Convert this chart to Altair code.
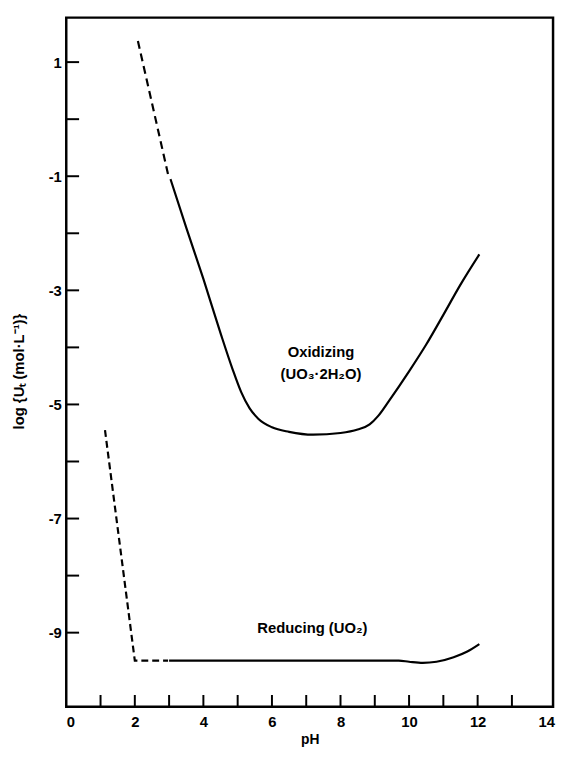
import altair as alt
import pandas as pd

# ---- data ----
ox_dash_ph = [2.09, 2.99]
ox_dash_log = [1.37, -1.02]
ox_ph = [3.04, 3.5, 4.0, 4.5, 4.85, 5.1, 5.35, 5.6, 6.0, 6.5, 7.2, 8.0, 8.5, 8.85, 9.1, 9.4, 10.0, 10.5, 11.0, 11.5, 12.05]
ox_log = [-1.05, -1.9, -2.8, -3.75, -4.38, -4.78, -5.07, -5.25, -5.4, -5.48, -5.53, -5.5, -5.44, -5.35, -5.2, -4.95, -4.42, -3.95, -3.43, -2.9, -2.37]

red_dash_ph = [1.13, 2.0, 2.97]
red_dash_log = [-5.45, -9.49, -9.49]
red_ph = [3.0, 5.0, 7.0, 9.0, 9.7, 10.0, 10.4, 10.8, 11.3, 11.7, 12.05]
red_log = [-9.49, -9.49, -9.49, -9.49, -9.49, -9.51, -9.53, -9.51, -9.43, -9.33, -9.2]

label_text = ["Oxidizing", "(UO₃·2H₂O)", "Reducing (UO₂)"]
label_ph = [7.43, 7.43, 7.18]
label_log = [-4.09, -4.47, -8.92]

x_tick_values = list(range(1, 14))
y_tick_values = list(range(-9, 2))
x_label_values = [0, 2, 4, 6, 8, 10, 12, 14]
y_label_values = [1, -1, -3, -5, -7, -9]

X_DOMAIN = [0, 14.2]
Y_DOMAIN = [-10.3, 1.78]
W, H = 493, 698
FONT = "Liberation Sans"

def frame(ph, lg, curve):
    return pd.DataFrame({"pH": ph, "logU": lg, "curve": curve})

solid = pd.concat([frame(ox_ph, ox_log, "ox"), frame(red_ph, red_log, "red")])
dashed_ox = frame(ox_dash_ph, ox_dash_log, "ox")
dashed_red = frame(red_dash_ph, red_dash_log, "red")
labels = pd.DataFrame({"t": label_text, "pH": label_ph, "logU": label_log})
xt = pd.DataFrame({"v": x_tick_values})
yt = pd.DataFrame({"v": y_tick_values})

xs = alt.Scale(domain=X_DOMAIN, nice=False, zero=False)
ys = alt.Scale(domain=Y_DOMAIN, nice=False, zero=False)

x_axis = alt.Axis(values=x_label_values, format="d", ticks=False, domain=False, grid=False,
                  labelFont=FONT, labelFontWeight="bold", labelFontSize=15,
                  labelColor="black", labelPadding=8, title="pH",
                  titleFont=FONT, titleFontWeight="bold", titleFontSize=14,
                  titleColor="black", titlePadding=3)
y_axis = alt.Axis(values=y_label_values, format="d", ticks=False, domain=False, grid=False,
                  labelExpr="replace(datum.label, '\u2212', '-')",
                  labelFont=FONT, labelFontWeight="bold", labelFontSize=15,
                  labelColor="black", labelPadding=5,
                  title="log {Uₜ (mol·L⁻¹)}",
                  titleFont=FONT, titleFontWeight="bold", titleFontSize=15,
                  titleColor="black", titleX=-48, titleY=358, titleBaseline="middle")

base_x = alt.X("pH:Q", scale=xs, axis=x_axis)
base_y = alt.Y("logU:Q", scale=ys, axis=y_axis)

solid_layer = alt.Chart(solid).mark_line(color="black", strokeWidth=2.2, interpolate="monotone").encode(
    x=base_x, y=base_y, detail="curve:N")
dash_ox_layer = alt.Chart(dashed_ox).mark_line(color="black", strokeWidth=2.2, strokeDash=[8, 5]).encode(
    x=alt.X("pH:Q", scale=xs), y=alt.Y("logU:Q", scale=ys))
dash_red_layer = alt.Chart(dashed_red).mark_line(color="black", strokeWidth=2.2, strokeDash=[7, 4]).encode(
    x=alt.X("pH:Q", scale=xs), y=alt.Y("logU:Q", scale=ys))

text_layer = alt.Chart(labels).mark_text(font=FONT, fontWeight="bold", fontSize=15, color="black").encode(
    x=alt.X("pH:Q", scale=xs), y=alt.Y("logU:Q", scale=ys), text="t:N")

xtick_layer = alt.Chart(xt).mark_rule(color="black", strokeWidth=2).encode(
    x=alt.X("v:Q", scale=xs), y=alt.value(H), y2=alt.value(H - 12))
ytick_layer = alt.Chart(yt).mark_rule(color="black", strokeWidth=2).encode(
    y=alt.Y("v:Q", scale=ys), x=alt.value(0), x2=alt.value(13))

chart = alt.layer(solid_layer, dash_ox_layer, dash_red_layer, text_layer, xtick_layer, ytick_layer).properties(
    width=W, height=H,
    autosize=alt.AutoSizeParams(type="none"),
    padding={"left": 59, "top": 5, "right": 4, "bottom": 40},
    background="white",
).configure_view(stroke="black", strokeWidth=2.5)

chart.save("out.html", embed_options={"renderer": "svg", "actions": False})
